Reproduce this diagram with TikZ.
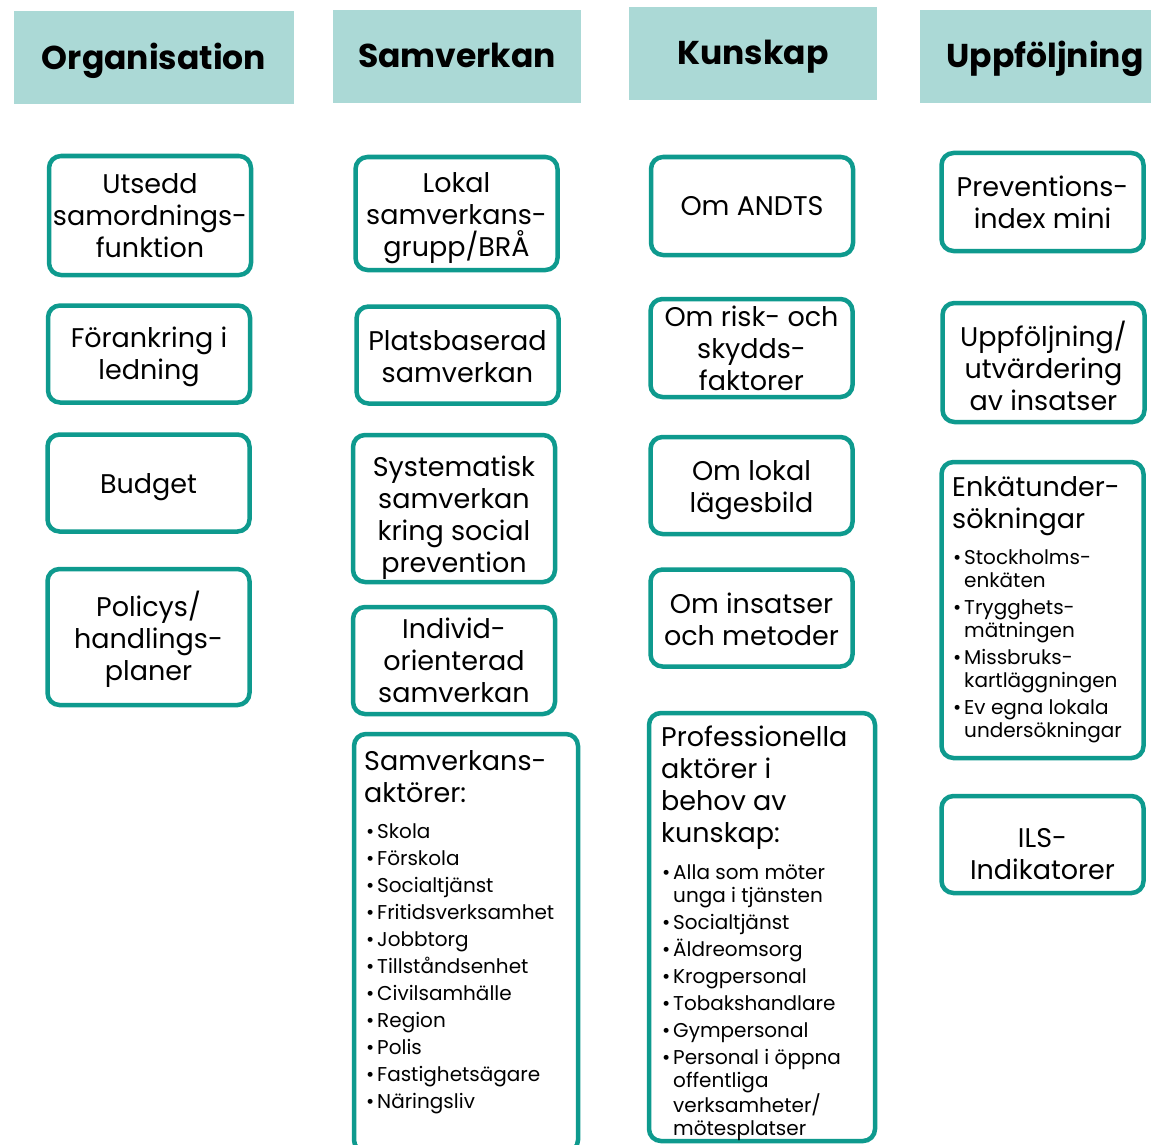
\documentclass[tikz,border=0pt]{standalone}
\usepackage{fontspec}
\setmainfont{Poppins}
\usepackage{xcolor}
\usepackage{tikz}

\definecolor{headfill}{RGB}{171,217,214}
\definecolor{boxteal}{RGB}{14,154,142}

% bullet items for the list boxes
\newcommand{\blt}[1]{\makebox[11pt][l]{\textbullet}#1}
\newcommand{\cnt}[1]{\hspace*{11pt}#1}

\begin{document}
\begin{tikzpicture}[
  x=1pt, y=-1pt,
  every node/.style={font=\fontsize{27}{32}\selectfont},
  head/.style={fill=headfill, minimum width=248pt, minimum height=93pt, inner sep=0pt,
    text height=28pt, text depth=5pt, font=\fontsize{33}{38}\selectfont\bfseries},
  box/.style={draw=boxteal, line width=4.5pt, rounded corners=12pt, fill=white,
    minimum width=202pt, minimum height=97pt, inner sep=0pt},
  txt/.style={align=center, inner sep=0pt},
  title/.style={align=left, anchor=north west, inner sep=0pt},
  list/.style={align=left, anchor=north west, inner sep=0pt, font=\fontsize{20}{23}\selectfont}
]
\clip (0,0) rectangle (1151,1145);

% Column headers
\node[head, minimum width=280pt] (hOrg) at (154, 58) {Organisation};
\node[head] (hSam) at (457, 56.5) {Samverkan};
\node[head] (hKun) at (753, 53.5) {Kunskap};
\node[head, minimum width=250pt] (hUpp) at (1045, 56.5) {Uppföljning};

% Organisation
\node[box, minimum height=119pt] (bUts) at (150, 215.5) {};
\node[txt] (tUts) at (bUts) {Utsedd\\samordnings-\\funktion};
\node[box] (bFor) at (149, 354) {};
\node[txt] (tFor) at ([yshift=-3pt]bFor) {Förankring i\\ledning};
\node[box] (bBud) at (148.5, 483) {};
\node[txt] (tBud) at ([yshift=-4pt]bBud) {Budget};
\node[box, minimum height=136pt] (bPol) at (148.5, 637) {};
\node[txt] (tPol) at ([yshift=-2pt]bPol) {Policys/\\handlings-\\planer};

% Samverkan
\node[box, minimum height=113pt] (bLok) at (456.5, 213.5) {};
\node[txt] (tLok) at ([yshift=-5pt]bLok) {Lokal\\samverkans-\\grupp/BRÅ};
\node[box] (bPla) at (457.5, 355) {};
\node[txt] (tPla) at ([yshift=-1.5pt]bPla) {Platsbaserad\\samverkan};
\node[box, minimum height=147pt] (bSys) at (454, 508.5) {};
\node[txt] (tSys) at ([yshift=-9pt]bSys) {Systematisk\\samverkan\\kring social\\prevention};
\node[box, minimum height=107pt] (bInd) at (454, 660.5) {};
\node[txt] (tInd) at (bInd) {Individ-\\orienterad\\samverkan};
\node[box, minimum width=224pt, minimum height=418pt] (bAkt) at (466, 943) {};
\node[title] (tAkt) at (364, 750) {Samverkans-\\aktörer:};
\node[list, font=\fontsize{20}{27}\selectfont] (lAkt) at (366, 823)
  {\blt{Skola}\\\blt{Förskola}\\\blt{Socialtjänst}\\\blt{Fritidsverksamhet}\\
   \blt{Jobbtorg}\\\blt{Tillståndsenhet}\\\blt{Civilsamhälle}\\\blt{Region}\\
   \blt{Polis}\\\blt{Fastighetsägare}\\\blt{Näringsliv}};

% Kunskap
\node[box, minimum height=98pt] (bAnd) at (752, 206) {};
\node[txt] (tAnd) at (bAnd) {Om ANDTS};
\node[box, minimum height=98pt] (bRis) at (751.5, 348) {};
\node[txt] (tRis) at (bRis) {Om risk- och\\skydds-\\faktorer};
\node[box] (bLag) at (751.5, 485.5) {};
\node[txt] (tLag) at ([yshift=-4.5pt]bLag) {Om lokal\\lägesbild};
\node[box] (bIns) at (751.5, 618) {};
\node[txt] (tIns) at ([yshift=-1pt]bIns) {Om insatser\\och metoder};
\node[box, minimum width=226pt, minimum height=428pt] (bPro) at (762, 927) {};
\node[title] (tPro) at (661, 726) {Professionella\\aktörer i\\behov av\\kunskap:};
\node[list] (lPro) at (662, 864)
  {\blt{Alla som möter}\\\cnt{unga i tjänsten}\\[4pt]\blt{Socialtjänst}\\[4pt]
   \blt{Äldreomsorg}\\[4pt]\blt{Krogpersonal}\\[4pt]\blt{Tobakshandlare}\\[4pt]
   \blt{Gympersonal}\\[4pt]\blt{Personal i öppna}\\\cnt{offentliga}\\
   \cnt{verksamheter/}\\\cnt{mötesplatser}};

% Uppföljning
\node[box, minimum height=98pt] (bPre) at (1042.5, 202) {};
\node[txt] (tPre) at (bPre) {Preventions-\\index mini};
\node[box, minimum height=119pt] (bUtv) at (1043.5, 362.5) {};
\node[txt] (tUtv) at ([yshift=-3pt]bUtv) {Uppföljning/\\utvärdering\\av insatser};
\node[box, minimum height=296pt] (bEnk) at (1042.5, 610) {};
\node[title] (tEnk) at (952, 476) {Enkätunder-\\sökningar};
\node[list] (lEnk) at (953, 549)
  {\blt{Stockholms-}\\\cnt{enkäten}\\[4pt]\blt{Trygghets-}\\\cnt{mätningen}\\[4pt]
   \blt{Missbruks-}\\\cnt{kartläggningen}\\[4pt]\blt{Ev egna lokala}\\\cnt{undersökningar}};
\node[box] (bIls) at (1042.5, 844.5) {};
\node[txt] (tIls) at ([yshift=-10pt]bIls) {ILS-\\Indikatorer};

\end{tikzpicture}
\end{document}
